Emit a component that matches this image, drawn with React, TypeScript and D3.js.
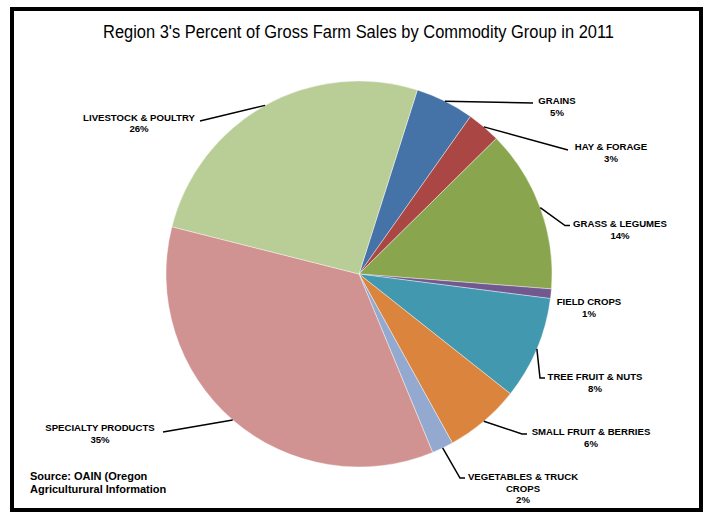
import React from "react";
import * as d3 from "d3";

const categories = [
  "GRAINS",
  "HAY & FORAGE",
  "GRASS & LEGUMES",
  "FIELD CROPS",
  "TREE FRUIT & NUTS",
  "SMALL FRUIT & BERRIES",
  "VEGETABLES & TRUCK CROPS",
  "SPECIALTY PRODUCTS",
  "LIVESTOCK & POULTRY",
];
const values = [4.9, 2.8, 13.6, 0.8, 8.6, 6.3, 1.8, 35.1, 25.9];
const percentLabels = ["5%", "3%", "14%", "1%", "8%", "6%", "2%", "35%", "26%"];
const colors = [
  "#4572A7",
  "#AA4643",
  "#89A54E",
  "#71588F",
  "#4198AF",
  "#DB843D",
  "#93A9CF",
  "#D19392",
  "#B9CD96",
];

const title = "Region 3's Percent of Gross Farm Sales by Commodity Group in 2011";
const sourceLines = ["Source: OAIN (Oregon", "Agriculturural Information"];

// label layout: text lines, center x, first baseline y, leader path points (after arc point)
const labelLayout = [
  { lines: ["GRAINS"], cx: 557, y: 104, leader: [[533, 103]] },
  { lines: ["HAY & FORAGE"], cx: 611, y: 150, leader: [[568, 150]] },
  { lines: ["GRASS & LEGUMES"], cx: 620, y: 227, leader: [[565, 225.5], [570, 225.5]] },
  { lines: ["FIELD CROPS"], cx: 589, y: 305, leader: [] },
  { lines: ["TREE FRUIT & NUTS"], cx: 595, y: 380, leader: [[540, 378], [545, 378]] },
  { lines: ["SMALL FRUIT & BERRIES"], cx: 591, y: 435, leader: [[522, 434], [527, 434]] },
  { lines: ["VEGETABLES & TRUCK", "CROPS"], cx: 523, y: 480, leader: [[460, 478], [465, 478]] },
  { lines: ["SPECIALTY PRODUCTS"], cx: 100, y: 431, leader: [[163, 432]] },
  { lines: ["LIVESTOCK & POULTRY"], cx: 139, y: 120.5, leader: [[200, 121]] },
];

const W = 703;
const H = 512;
const cx = 359;
const cy = 274;
const R = 193;
const startDeg = 17.6;

export default function App() {
  const pie = d3
    .pie<number>()
    .sort(null)
    .value((d) => d)
    .startAngle((startDeg * Math.PI) / 180)
    .endAngle((startDeg * Math.PI) / 180 + 2 * Math.PI);
  const arcs = pie(values);
  const arc = d3.arc<d3.PieArcDatum<number>>().innerRadius(0).outerRadius(R);

  const lineH = 11.5;

  return (
    <svg
      width={W}
      height={H}
      style={{ position: "absolute", left: 0, top: 0, background: "#fff" }}
      fontFamily="'Liberation Sans', Arial, sans-serif"
    >
      <rect x={0} y={0} width={W} height={H} fill="#fff" />
      <rect x={12} y={9} width={689} height={501} fill="#fff" stroke="#000" strokeWidth={4} />
      <text
        x={358.5}
        y={38}
        textAnchor="middle"
        fontSize={17.5}
        fill="#000"
        textLength={511}
        lengthAdjust="spacingAndGlyphs"
      >
        {title}
      </text>
      <g transform={`translate(${cx},${cy})`}>
        {arcs.map((a, i) => (
          <path key={categories[i]} d={arc(a) || ""} fill={colors[i]} stroke="#fff" strokeWidth={0.4} />
        ))}
      </g>
      {arcs.map((a, i) => {
        const lay = labelLayout[i];
        if (!lay.leader.length) return null;
        const mid = (a.startAngle + a.endAngle) / 2;
        const p0 = [cx + R * Math.sin(mid), cy - R * Math.cos(mid)];
        const pts = [p0, ...lay.leader];
        return (
          <polyline
            key={"l" + i}
            points={pts.map((p) => p.join(",")).join(" ")}
            fill="none"
            stroke="#000"
            strokeWidth={1.5}
          />
        );
      })}
      {labelLayout.map((lay, i) => {
        const allLines = [...lay.lines, percentLabels[i]];
        return (
          <text key={"t" + i} textAnchor="middle" fontSize={9.6} fontWeight="bold" fill="#000">
            {allLines.map((t, j) => (
              <tspan key={j} x={lay.cx} y={lay.y + j * lineH}>
                {t}
              </tspan>
            ))}
          </text>
        );
      })}
      <text fontSize={11} fontWeight="bold" fill="#000">
        {sourceLines.map((t, j) => (
          <tspan key={j} x={30} y={480 + j * 13}>
            {t}
          </tspan>
        ))}
      </text>
    </svg>
  );
}
